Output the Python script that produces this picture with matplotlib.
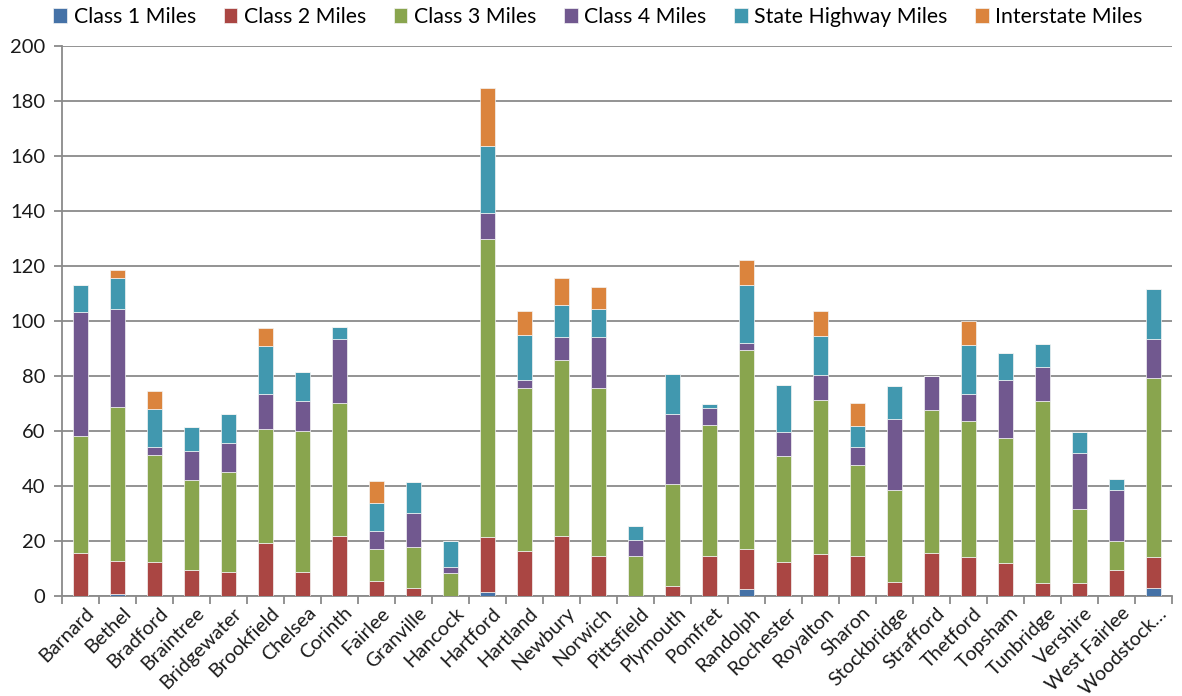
import matplotlib
matplotlib.use("Agg")
import matplotlib.pyplot as plt
import numpy as np

towns = ["Barnard", "Bethel", "Bradford", "Braintree", "Bridgewater", "Brookfield",
         "Chelsea", "Corinth", "Fairlee", "Granville", "Hancock", "Hartford",
         "Hartland", "Newbury", "Norwich", "Pittsfield", "Plymouth", "Pomfret",
         "Randolph", "Rochester", "Royalton", "Sharon", "Stockbridge", "Strafford",
         "Thetford", "Topsham", "Tunbridge", "Vershire", "West Fairlee", "Woodstock\u2026"]

class1 = [0, 0.8, 0, 0, 0, 0, 0, 0, 0, 0, 0, 1.6, 0, 0, 0, 0, 0, 0,
          2.5, 0, 0, 0, 0, 0, 0, 0, 0, 0, 0, 2.9]
class2 = [15.5, 11.8, 12.3, 9.3, 8.6, 19.1, 8.6, 21.7, 5.3, 2.8, 0, 19.7,
          16.2, 22.0, 14.4, 0, 3.7, 14.4, 14.5, 12.2, 15.4, 14.4, 5.0, 15.6,
          14.2, 12.1, 4.6, 4.9, 9.4, 11.3]
class3 = [42.8, 56.2, 39.1, 32.8, 36.6, 41.7, 51.4, 48.5, 11.8, 15.0, 8.3, 108.6,
          59.6, 63.9, 61.3, 14.6, 37.0, 47.9, 72.6, 38.8, 55.8, 33.3, 33.6, 51.9,
          49.3, 45.2, 66.2, 26.9, 10.6, 65.2]
class4 = [45.1, 35.5, 2.8, 10.7, 10.3, 12.8, 11.0, 23.4, 6.4, 12.3, 2.2, 9.3,
          2.8, 8.3, 18.5, 5.8, 25.4, 6.1, 2.4, 8.6, 9.1, 6.5, 25.8, 12.4,
          9.8, 21.3, 12.6, 20.3, 18.6, 14.0]
state_hwy = [9.8, 11.3, 13.8, 8.8, 10.8, 17.3, 10.5, 4.1, 10.2, 11.5, 9.6, 24.4,
             16.3, 11.6, 10.0, 5.0, 14.5, 1.4, 21.2, 17.0, 14.3, 7.8, 11.8, 0,
             18.0, 9.8, 8.1, 7.7, 4.1, 18.2]
interstate = [0, 2.9, 6.4, 0, 0, 6.4, 0, 0, 8.3, 0, 0, 21.3,
              8.6, 10.0, 8.3, 0, 0, 0, 8.9, 0, 9.0, 8.2, 0, 0,
              8.6, 0, 0, 0, 0, 0]

series_names = ["Class 1 Miles", "Class 2 Miles", "Class 3 Miles", "Class 4 Miles",
                "State Highway Miles", "Interstate Miles"]
series_values = [class1, class2, class3, class4, state_hwy, interstate]
colors = ["#4572A7", "#AA4643", "#89A54E", "#71588F", "#4198AF", "#DB843D"]

plt.rcParams["font.family"] = ["Lato", "DejaVu Sans"]

fig = plt.figure(figsize=(11.82, 6.96), dpi=100)
ax = fig.add_axes([62 / 1182, 1 - 596 / 696, 1110 / 1182, 550 / 696])

x = np.arange(len(towns))
bottom = np.zeros(len(towns))
handles = []
for name, vals, col in zip(series_names, series_values, colors):
    vals = np.array(vals, dtype=float)
    h = ax.bar(x, vals, width=0.42, bottom=bottom, color=col, label=name,
               edgecolor="#f4f4f4", linewidth=0.5, zorder=3)
    handles.append(h)
    bottom += vals

grid_col = "#8a8a8a"
ax.set_xlim(-0.5, len(towns) - 0.5)
ax.set_ylim(0, 200)
ax.set_yticks(np.arange(0, 201, 20))
ax.yaxis.grid(True, color=grid_col, linewidth=1.3, zorder=0)
ax.set_axisbelow(True)

for side in ["top", "right"]:
    ax.spines[side].set_visible(False)
for side in ["left", "bottom"]:
    ax.spines[side].set_color(grid_col)
    ax.spines[side].set_linewidth(1.3)

ax.tick_params(axis="y", direction="out", length=6, width=1.3, color=grid_col,
               labelsize=14.5, labelcolor="#1a1a1a", pad=6)

# category labels sit on bar centers, tick marks sit between categories
ax.set_xticks(x + 0.12)
ax.set_xticklabels(towns, rotation=45, ha="right", rotation_mode="anchor",
                   fontsize=14.2, color="#1a1a1a")
ax.tick_params(axis="x", which="major", length=0, pad=6)
ax.set_xticks(np.arange(-0.5, len(towns), 1.0), minor=True)
ax.tick_params(axis="x", which="minor", direction="out", length=6, width=1.3,
               color=grid_col)

fig.legend(handles=handles, labels=series_names, loc="center",
           bbox_to_anchor=(598 / 1182, 1 - 17 / 696), ncol=6, frameon=False,
           fontsize=15.3, handlelength=0.65, handleheight=0.65, handletextpad=0.3,
           columnspacing=1.3, borderaxespad=0)

fig.savefig("out.png", dpi=100)
